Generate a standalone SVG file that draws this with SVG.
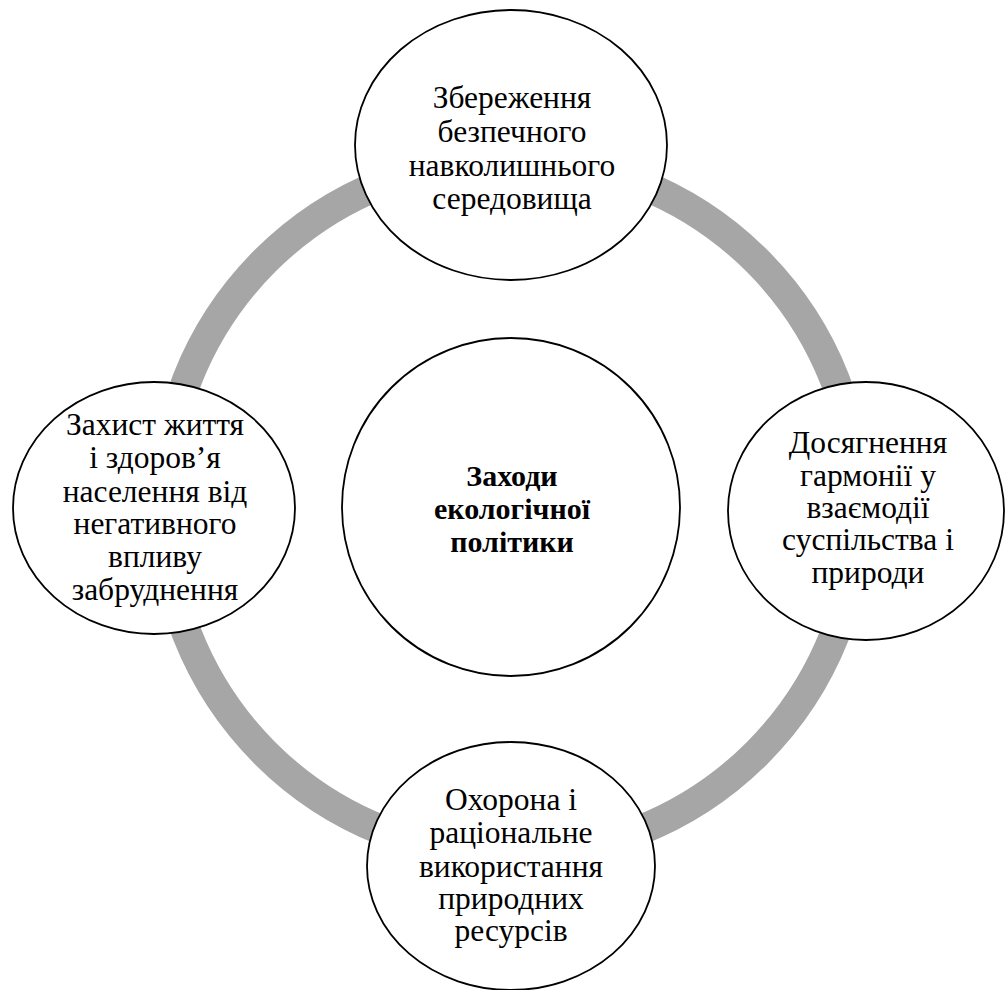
<svg xmlns="http://www.w3.org/2000/svg" width="1005" height="990" viewBox="0 0 1005 990">
<style>
.node{fill:#fff;stroke:#000;stroke-width:1.8}
.t{font-family:"Liberation Serif","Times New Roman",serif;font-size:31.5px;fill:#000;text-anchor:middle}
.b{font-weight:bold;font-size:30px}
.ring{fill:none;stroke:#a6a6a6;stroke-width:30}
</style>
<rect width="1005" height="990" fill="#fff"/>
<g id="connectors">
<circle class="ring" cx="511" cy="507" r="348"/>
</g>
<g id="center">
<circle class="node" cx="511" cy="507" r="169"/>
<text class="t b"><tspan x="512" y="486">Заходи</tspan><tspan x="512" y="519">екологічної</tspan><tspan x="512" y="552">політики</tspan></text>
</g>
<g id="top">
<ellipse class="node" cx="511" cy="145" rx="156" ry="135"/>
<text class="t"><tspan x="512" y="108">Збереження</tspan><tspan x="512" y="142">безпечного</tspan><tspan x="512" y="176">навколишнього</tspan><tspan x="512" y="209">середовища</tspan></text>
</g>
<g id="right">
<ellipse class="node" cx="866" cy="511" rx="138" ry="129"/>
<text class="t"><tspan x="868" y="453">Досягнення</tspan><tspan x="868" y="486">гармонії у</tspan><tspan x="868" y="518">взаємодії</tspan><tspan x="868" y="550">суспільства і</tspan><tspan x="868" y="583">природи</tspan></text>
</g>
<g id="bottom">
<ellipse class="node" cx="511" cy="866" rx="144" ry="124"/>
<text class="t"><tspan x="511" y="810">Охорона і</tspan><tspan x="511" y="843">раціональне</tspan><tspan x="511" y="877">використання</tspan><tspan x="511" y="909">природних</tspan><tspan x="511" y="941">ресурсів</tspan></text>
</g>
<g id="left">
<ellipse class="node" cx="154" cy="508" rx="141" ry="126"/>
<text class="t"><tspan x="155" y="435">Захист життя</tspan><tspan x="155" y="468">і здоров’я</tspan><tspan x="155" y="502">населення від</tspan><tspan x="155" y="534">негативного</tspan><tspan x="155" y="567">впливу</tspan><tspan x="155" y="600">забруднення</tspan></text>
</g>
</svg>
